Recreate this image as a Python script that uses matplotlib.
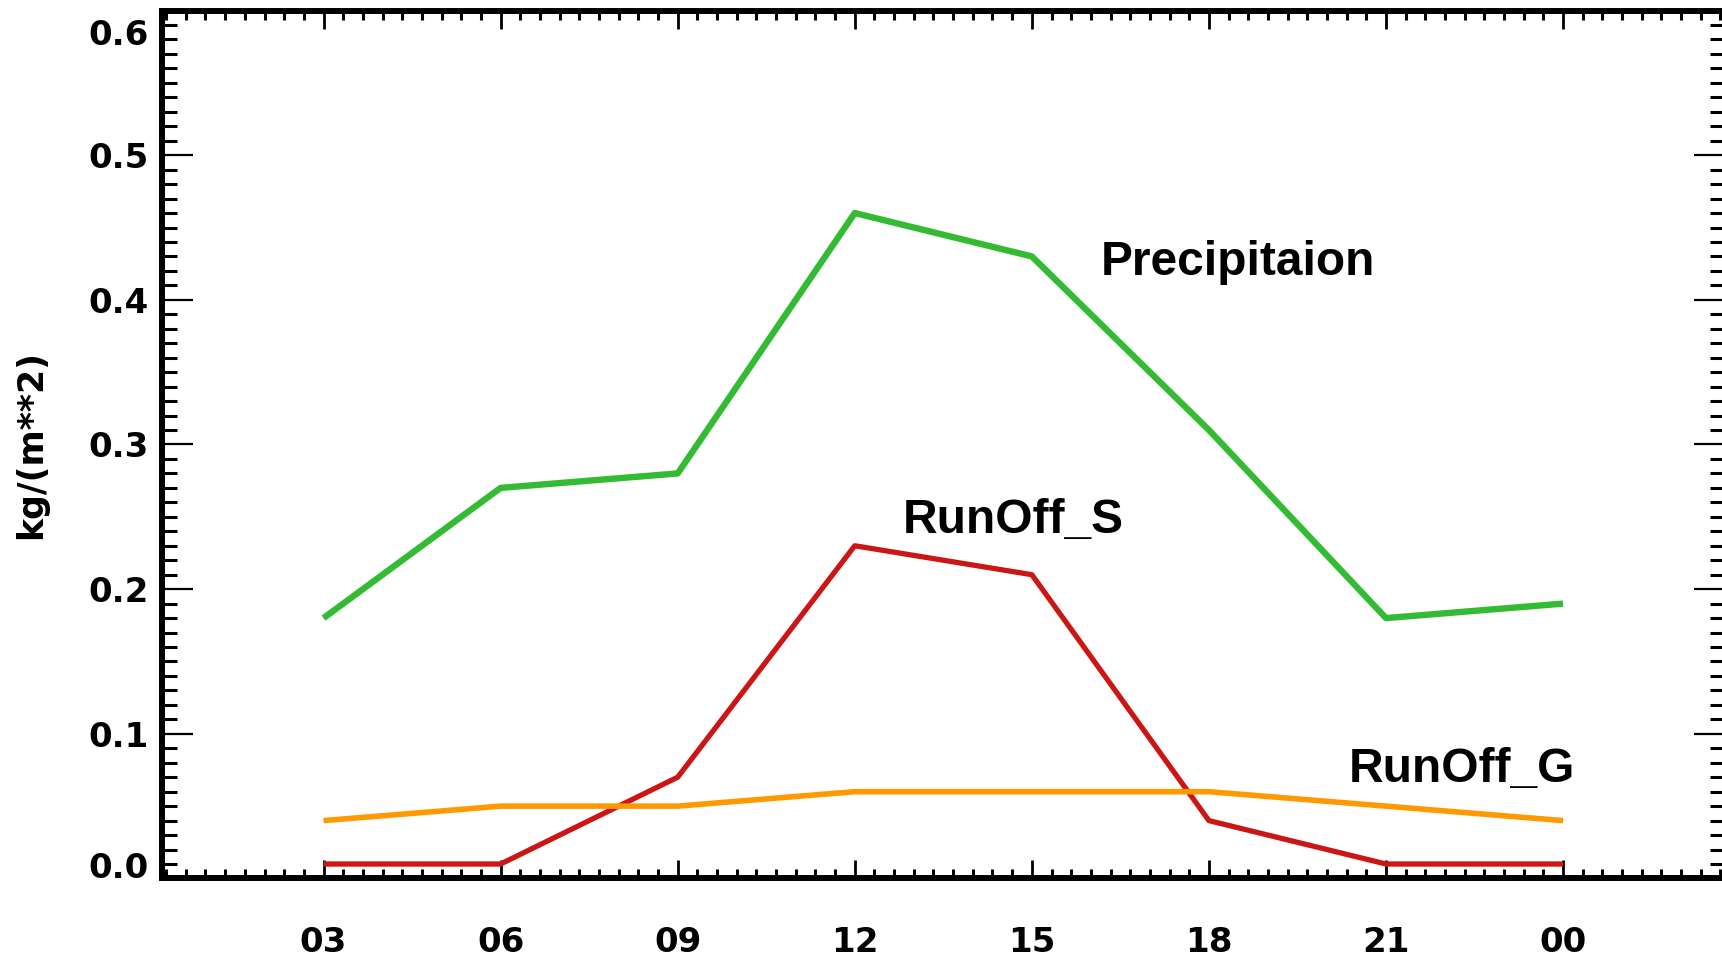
import matplotlib
matplotlib.use('Agg')
import matplotlib.pyplot as plt
import matplotlib.transforms as mtransforms
from matplotlib.ticker import MultipleLocator, FormatStrFormatter
import numpy as np

# 3-hourly values
hours = ['03', '06', '09', '12', '15', '18', '21', '00']
precip = [0.18, 0.27, 0.28, 0.46, 0.43, 0.31, 0.18, 0.19]
runoff_s = [0.01, 0.01, 0.07, 0.23, 0.21, 0.04, 0.01, 0.01]
runoff_g = [0.04, 0.05, 0.05, 0.06, 0.06, 0.06, 0.05, 0.04]
yticks = [0.0, 0.1, 0.2, 0.3, 0.4, 0.5, 0.6]

plt.rcParams['font.family'] = ['DejaVu Sans']
plt.rcParams['font.weight'] = 'bold'

x = np.arange(len(hours))

fig = plt.figure(figsize=(17.22, 9.56), dpi=100)
ax = fig.add_axes([0.0941, 0.0811, 0.9077, 0.9079])

ax.plot(x, precip, color='#33bb33', lw=4.6, solid_capstyle='butt')
ax.plot(x, runoff_s, color='#cc1616', lw=3.8, solid_capstyle='butt')
ax.plot(x, runoff_g, color='#ff9900', lw=4.0, solid_capstyle='butt')

ax.set_xlim(-0.912, 7.915)
ax.set_ylim(0, 0.6)

ax.set_xticks(x)
ax.set_xticklabels(hours)
ax.xaxis.set_minor_locator(MultipleLocator(1 / 9))
ax.set_yticks(yticks)
ax.yaxis.set_major_formatter(FormatStrFormatter('%.1f'))
ax.yaxis.set_minor_locator(MultipleLocator(0.01))

ax.tick_params(axis='y', which='major', direction='in', length=22, width=1.6,
               left=True, right=True, labelsize=24.5, pad=9.5)
ax.tick_params(axis='y', which='minor', direction='in', length=10.8, width=2.2,
               left=True, right=True)
ax.tick_params(axis='x', which='major', direction='in', length=13.3, width=2,
               top=True, bottom=True, labelsize=24.5, pad=34)
ax.tick_params(axis='x', which='minor', direction='in', length=6.5, width=2.2,
               top=True, bottom=True)

for s in ax.spines.values():
    s.set_linewidth(4.3)

# end labels sit inside the axis range, like IDL does
ticks = ax.yaxis.get_major_ticks()
ticks[0].label1.set_transform(ticks[0].label1.get_transform() +
                              mtransforms.ScaledTranslation(0, 0.13, fig.dpi_scale_trans))
ticks[-1].label1.set_transform(ticks[-1].label1.get_transform() +
                               mtransforms.ScaledTranslation(0, -0.21, fig.dpi_scale_trans))

ax.set_ylabel('kg/(m**2)', fontsize=25, fontweight='bold')
ax.yaxis.set_label_coords(-0.073, 0.5)

lab = dict(fontsize=34.5, fontweight='bold', family='Liberation Sans', va='baseline')
ax.text(4.39, 0.4170, 'Precipitaion', **lab)
ax.text(3.27, 0.239, 'RunOff_S', **lab)
ax.text(5.79, 0.0665, 'RunOff_G', **lab)

fig.savefig('out.png', dpi=100)
